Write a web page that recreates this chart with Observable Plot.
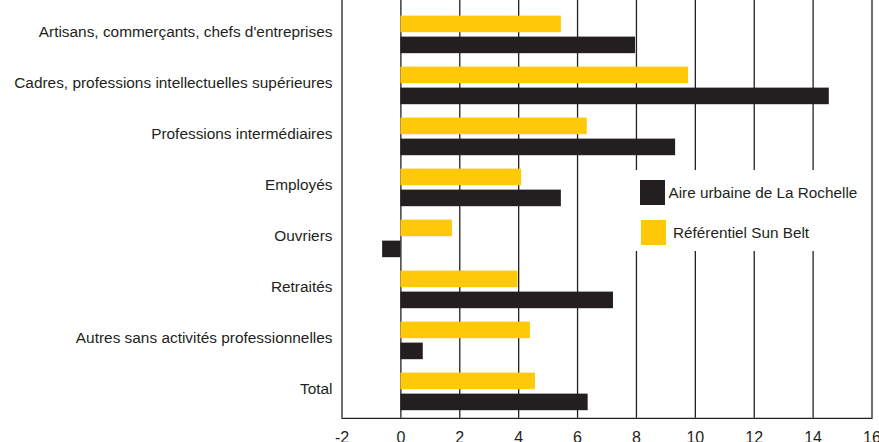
<!DOCTYPE html>
<html>
<head>
<meta charset="utf-8">
<script src="https://cdn.jsdelivr.net/npm/d3@7"></script>
<script src="https://cdn.jsdelivr.net/npm/@observablehq/plot@0.6"></script>
<style>
  body { margin: 0; background: #fff; font-family: "Liberation Sans", Arial, sans-serif; }
  #wrap { position: relative; width: 879px; height: 442px; overflow: hidden; }
  .legend { position: absolute; left: 632px; top: 170px; width: 237px; height: 81px; background: #fff; color: #231F20; font-size: 15.3px; }
  .legend .sw { position: absolute; width: 25px; height: 25px; }
  .legend .lb { position: absolute; white-space: nowrap; line-height: 18px; }
</style>
</head>
<body>
<div id="wrap"></div>
<script>
const categories = [
  "Artisans, commerçants, chefs d'entreprises",
  "Cadres, professions intellectuelles supérieures",
  "Professions intermédiaires",
  "Employés",
  "Ouvriers",
  "Retraités",
  "Autres sans activités professionnelles",
  "Total"
];
const seriesNames = ["Aire urbaine de La Rochelle", "Référentiel Sun Belt"];
const seriesColors = ["#231F20", "#FFC90A"];
const rochelle = [7.97, 14.55, 9.33, 5.45, -0.62, 7.22, 0.76, 6.36];
const sunbelt  = [5.45, 9.77, 6.33, 4.10, 1.75, 3.98, 4.40, 4.57];
const xTicks = [-2, 0, 2, 4, 6, 8, 10, 12, 14, 16];

const rowsR = categories.map((c, i) => ({category: c, value: rochelle[i]}));
const rowsS = categories.map((c, i) => ({category: c, value: sunbelt[i]}));

const ink = "#231F20";

const chart = Plot.plot({
  width: 879,
  height: 442,
  marginLeft: 341.5,
  marginRight: 7.5,
  marginTop: 0,
  marginBottom: 24.2,
  style: {fontFamily: "'Liberation Sans', Arial, sans-serif", color: ink, background: "#fff"},
  x: {domain: [-2, 16]},
  y: {type: "band", domain: categories, range: [7.4, 416.5], padding: 0},
  marks: [
    Plot.ruleX(xTicks, {stroke: ink, strokeWidth: 1.3}),
    Plot.frame({anchor: "bottom", stroke: ink, strokeWidth: 1.3}),
    Plot.barX(rowsS, {x: "value", y: "category", fill: seriesColors[1], insetTop: 7.6, insetBottom: 26.8}),
    Plot.barX(rowsR, {x: "value", y: "category", fill: seriesColors[0], insetTop: 28.6, insetBottom: 5.8}),
    Plot.axisY({tickSize: 0, tickPadding: 9.5, fontSize: 15.4, dy: -1.5, fill: ink, label: null}),
    Plot.axisX({ticks: xTicks, tickFormat: d => String(d), tickSize: 0, tickPadding: 13, fontSize: 16, fill: ink, label: null})
  ]
});
const wrap = document.getElementById("wrap");
wrap.appendChild(chart);

const legend = document.createElement("div");
legend.className = "legend";
const items = [
  {sw: [8, 10], lb: [36.5, 14]},
  {sw: [9, 50], lb: [41, 54]}
];
seriesNames.forEach((name, i) => {
  const sw = document.createElement("div");
  sw.className = "sw";
  sw.style.left = items[i].sw[0] + "px";
  sw.style.top = items[i].sw[1] + "px";
  sw.style.background = seriesColors[i];
  const lb = document.createElement("div");
  lb.className = "lb";
  lb.style.left = items[i].lb[0] + "px";
  lb.style.top = items[i].lb[1] + "px";
  lb.textContent = name;
  legend.appendChild(sw);
  legend.appendChild(lb);
});
wrap.appendChild(legend);
</script>
</body>
</html>
